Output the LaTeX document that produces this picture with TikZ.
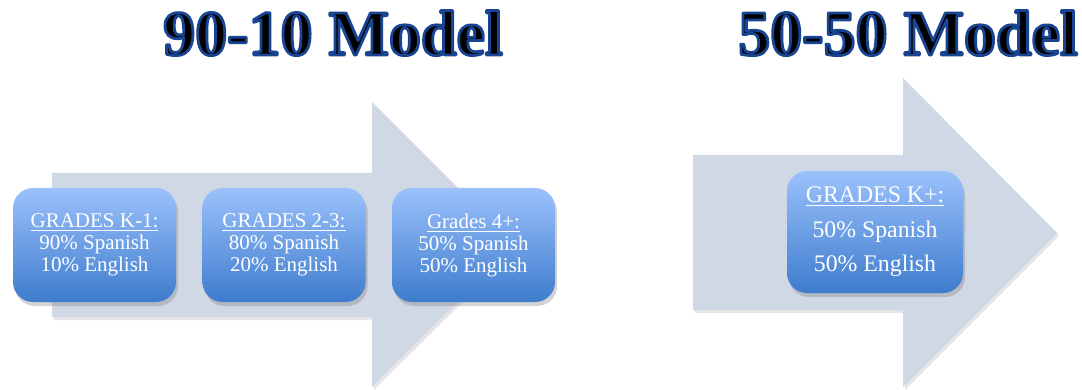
\documentclass[tikz,border=0pt]{standalone}
\usepackage{fontspec}
\setmainfont{Liberation Serif}
\usetikzlibrary{shadows}
\definecolor{arrowgray}{RGB}{208,215,229}
\definecolor{boxtop}{RGB}{155,193,252}
\definecolor{boxbottom}{RGB}{62,124,205}
\definecolor{titleblue}{RGB}{24,68,145}
% black title with a blue rim (fill and stroke)
\newcommand{\rimtitle}[1]{%
    \special{pdf:literal direct 0.094 0.267 0.569 RG 1.4 w 1 j 2 Tr}#1%
    \special{pdf:literal direct 0 Tr}}
\begin{document}
\begin{tikzpicture}[x=0.5pt,y=-0.5pt,
    grade/.style={rounded corners=10pt, top color=boxtop, bottom color=boxbottom,
        text=white, align=center, font=\fontsize{10.5}{11}\selectfont,
        minimum width=81.5pt, minimum height=57pt, inner sep=0pt,
        drop shadow={opacity=0.35, shadow xshift=1pt, shadow yshift=-2pt}},
    band/.style={fill=arrowgray, drop shadow={opacity=0.2, shadow xshift=1pt, shadow yshift=-1.5pt}},
    heading/.style={font=\fontsize{32}{36}\selectfont\bfseries, inner sep=0pt, anchor=base}]
        \useasboundingbox (0,0) rectangle (1082,390);
        % arrows
        \coordinate (A1) at (52,173);
        \coordinate (A2) at (372,173);
        \coordinate (A3) at (372,102);
        \coordinate (A4) at (515,245);
        \coordinate (A5) at (372,387);
        \coordinate (A6) at (372,317);
        \coordinate (A7) at (52,317);
        \fill[band] (A1)--(A2)--(A3)--(A4)--(A5)--(A6)--(A7)--cycle;
        \coordinate (B1) at (693,155);
        \coordinate (B2) at (903,155);
        \coordinate (B3) at (903,78);
        \coordinate (B4) at (1057,233);
        \coordinate (B5) at (903,387);
        \coordinate (B6) at (903,310);
        \coordinate (B7) at (693,310);
        \fill[band] (B1)--(B2)--(B3)--(B4)--(B5)--(B6)--(B7)--cycle;
        % titles
        \node[heading] (title9010) at (333,55) {\rimtitle{90-10 Model}};
        \node[heading] (title5050) at (908,55) {\rimtitle{50-50 Model}};
        % boxes
        \node[grade] (k1) at (94.5,245) {\underline{GRADES K-1:}\\90\% Spanish\\10\% English};
        \node[grade] (g23) at (284,245) {\underline{GRADES 2-3:}\\80\% Spanish\\20\% English};
        \node[grade] (g4) at (473.5,245) {\underline{Grades 4+:}\\50\% Spanish\\50\% English};
        \node[grade, minimum width=88pt, minimum height=61pt,
            font=\fontsize{11.9}{17.3}\selectfont] (kplus) at (875,232)
            {\underline{GRADES K+:}\\50\% Spanish\\50\% English};
    \end{tikzpicture}
\end{document}
